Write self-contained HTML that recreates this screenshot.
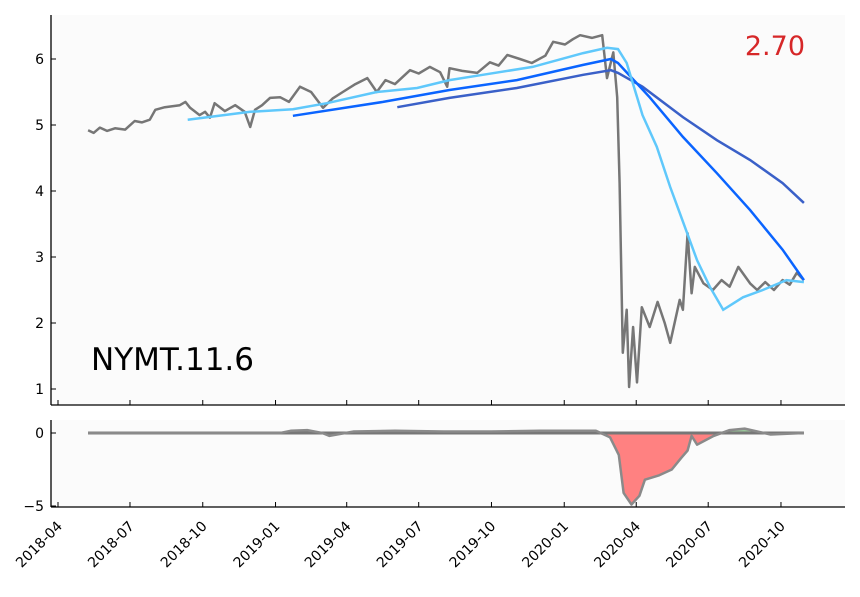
<!DOCTYPE html>
<html><head><meta charset="utf-8"><style>
html,body{margin:0;padding:0;background:#fff;}
svg{display:block;font-family:"DejaVu Sans","Liberation Sans",sans-serif;}
</style></head><body>
<svg id="chart" width="860" height="597" viewBox="0 0 860 597">
  <rect x="51" y="15" width="794" height="390" fill="#fbfbfb"/>
  <rect x="51" y="420" width="794" height="87" fill="#fbfbfb"/>
  <g id="lower"></g>
  <g id="main"></g>
  <g id="axes"></g>
  <text x="91" y="370" font-size="31" fill="#000">NYMT.11.6</text>
  <text x="805" y="55" font-size="27" fill="#d62728" text-anchor="end">2.70</text>
</svg>
<script>
const priceDates=["2018-05-09","2018-05-16","2018-05-24","2018-06-02","2018-06-12","2018-06-25","2018-07-07","2018-07-16","2018-07-26","2018-08-02","2018-08-14","2018-09-02","2018-09-09","2018-09-15","2018-09-27","2018-10-04","2018-10-10","2018-10-16","2018-10-29","2018-11-11","2018-11-23","2018-11-30","2018-12-06","2018-12-15","2018-12-25","2019-01-07","2019-01-18","2019-02-01","2019-02-15","2019-03-02","2019-03-14","2019-03-27","2019-04-12","2019-04-27","2019-05-09","2019-05-20","2019-06-01","2019-06-20","2019-07-01","2019-07-15","2019-07-28","2019-08-06","2019-08-09","2019-08-25","2019-09-13","2019-09-29","2019-10-10","2019-10-21","2019-11-06","2019-11-21","2019-12-08","2019-12-18","2020-01-02","2020-01-12","2020-01-21","2020-02-05","2020-02-18","2020-02-24","2020-03-03","2020-03-08","2020-03-11","2020-03-15","2020-03-20","2020-03-23","2020-03-28","2020-04-02","2020-04-08","2020-04-18","2020-04-28","2020-05-07","2020-05-14","2020-05-26","2020-05-30","2020-06-05","2020-06-10","2020-06-14","2020-06-25","2020-07-07","2020-07-18","2020-07-28","2020-08-08","2020-08-23","2020-09-01","2020-09-11","2020-09-22","2020-10-03","2020-10-12","2020-10-21","2020-10-30"];
const priceValues=[4.92,4.88,4.96,4.91,4.95,4.93,5.06,5.04,5.08,5.23,5.27,5.30,5.35,5.26,5.15,5.20,5.11,5.33,5.21,5.30,5.20,4.97,5.23,5.30,5.41,5.42,5.35,5.58,5.50,5.26,5.40,5.50,5.62,5.71,5.50,5.68,5.62,5.83,5.78,5.88,5.80,5.58,5.86,5.82,5.79,5.95,5.90,6.06,6.00,5.94,6.05,6.26,6.22,6.30,6.36,6.32,6.36,5.71,6.10,5.42,4.12,1.55,2.20,1.03,1.94,1.10,2.24,1.94,2.32,2.00,1.70,2.35,2.20,3.36,2.45,2.85,2.60,2.50,2.65,2.55,2.85,2.60,2.50,2.62,2.50,2.65,2.58,2.76,2.65];
const maShortDates=["2018-09-12","2018-11-30","2019-01-23","2019-03-07","2019-05-09","2019-06-29","2019-08-09","2019-09-20","2019-11-22","2020-01-25","2020-02-24","2020-03-09","2020-03-20","2020-04-09","2020-04-27","2020-05-14","2020-05-26","2020-06-17","2020-07-03","2020-07-20","2020-08-14","2020-09-08","2020-10-08","2020-10-30"];
const maShortValues=[5.08,5.20,5.24,5.33,5.50,5.56,5.68,5.76,5.88,6.09,6.17,6.15,5.94,5.15,4.67,4.06,3.67,2.95,2.55,2.20,2.39,2.50,2.65,2.62];
const maMidDates=["2019-01-23","2019-05-17","2019-08-09","2019-11-02","2020-01-25","2020-02-29","2020-03-09","2020-04-18","2020-05-30","2020-07-12","2020-08-23","2020-10-03","2020-10-30"];
const maMidValues=[5.14,5.35,5.53,5.68,5.91,6.00,5.94,5.42,4.82,4.27,3.71,3.11,2.65];
const maLongDates=["2019-06-04","2019-08-09","2019-11-02","2020-01-25","2020-02-29","2020-03-09","2020-04-09","2020-05-30","2020-07-12","2020-08-23","2020-10-03","2020-10-30"];
const maLongValues=[5.27,5.41,5.56,5.76,5.83,5.79,5.58,5.12,4.77,4.47,4.12,3.82];
const diffDates=["2018-05-09","2019-01-07","2019-01-20","2019-02-10","2019-03-01","2019-03-10","2019-04-10","2019-06-01","2019-08-01","2019-10-01","2019-12-01","2020-02-10","2020-02-28","2020-03-10","2020-03-16","2020-03-26","2020-04-05","2020-04-12","2020-04-30","2020-05-16","2020-05-28","2020-06-05","2020-06-10","2020-06-17","2020-07-08","2020-07-28","2020-08-16","2020-09-18","2020-10-30"];
const diffValues=[0,0,0.15,0.2,0.0,-0.2,0.1,0.15,0.1,0.1,0.15,0.15,-0.3,-1.5,-4.1,-4.9,-4.3,-3.2,-2.9,-2.5,-1.7,-1.2,-0.2,-0.8,-0.2,0.2,0.3,-0.1,0];
const mainTicks=[1,2,3,4,5,6];
const lowerTicks=[0,-5];
const lowerTickLabels=["0","\u22125"];
const xTicks=["2018-04-01","2018-07-01","2018-10-01","2019-01-01","2019-04-01","2019-07-01","2019-10-01","2020-01-01","2020-04-01","2020-07-01","2020-10-01"];
const xTickLabels=["2018-04","2018-07","2018-10","2019-01","2019-04","2019-07","2019-10","2020-01","2020-04","2020-07","2020-10"];

const NS="http://www.w3.org/2000/svg";
const T0=Date.UTC(2018,3,1);
function xs(d){const p=d.split('-').map(Number);return 58+((Date.UTC(p[0],p[1]-1,p[2])-T0)/86400000)*0.791;}
function ys(v){return 59+(6-v)*66;}
function yl(v){return 433-v*14.6;}
function mk(tag,attrs,parent){const e=document.createElementNS(NS,tag);for(const k in attrs)e.setAttribute(k,attrs[k]);parent.appendChild(e);return e;}
function pts(ds,vs,f){return ds.map((d,i)=>xs(d).toFixed(1)+','+f(vs[i]).toFixed(1)).join(' ');}

const main=document.getElementById('main');
const lower=document.getElementById('lower');
const axes=document.getElementById('axes');

let neg='M'+xs(diffDates[0])+','+yl(0), pos=neg;
diffDates.forEach((d,i)=>{neg+=' L'+xs(d).toFixed(1)+','+yl(Math.min(0,diffValues[i])).toFixed(1);pos+=' L'+xs(d).toFixed(1)+','+yl(Math.max(0,diffValues[i])).toFixed(1);});
neg+=' L'+xs(diffDates[diffDates.length-1])+','+yl(0)+' Z';pos+=' L'+xs(diffDates[diffDates.length-1])+','+yl(0)+' Z';
let e=mk('path',{d:neg,fill:'#ff6b6b','fill-opacity':'0.85'},lower);


e=mk('path',{d:pos,fill:'#5aa55a','fill-opacity':'0.6'},lower);


e=mk('line',{x1:xs(diffDates[0]),x2:xs(diffDates[diffDates.length-1]),y1:yl(0),y2:yl(0),stroke:'#777','stroke-width':3},lower);


e=mk('polyline',{points:pts(diffDates,diffValues,yl),fill:'none',stroke:'#8a8a8a','stroke-width':2.5,'stroke-linejoin':'round'},lower);



e=mk('polyline',{points:pts(priceDates,priceValues,ys),fill:'none',stroke:'#767676','stroke-width':2.5,'stroke-linejoin':'round'},main);


e=mk('polyline',{points:pts(maLongDates,maLongValues,ys),fill:'none',stroke:'#3a60c8','stroke-width':2.5},main);


e=mk('polyline',{points:pts(maMidDates,maMidValues,ys),fill:'none',stroke:'#0a64ff','stroke-width':2.5},main);


e=mk('polyline',{points:pts(maShortDates,maShortValues,ys),fill:'none',stroke:'#5fc8fb','stroke-width':2.5},main);



[[51,15,51,405],[51,405,845,405],[51,420,51,507],[51,507,845,507]].forEach(s=>{
  const l=mk('line',{x1:s[0],y1:s[1],x2:s[2],y2:s[3],stroke:'#000','stroke-width':1.3},axes);
  
  
});
mainTicks.forEach(v=>{
  const y=ys(v);
  const t=mk('line',{x1:51,x2:56,y1:y,y2:y,stroke:'#000'},axes);
  
  
  const tx=mk('text',{x:44,y:y+5,'font-size':14,'text-anchor':'end'},axes);tx.textContent=String(v);
  
  
});
lowerTicks.forEach((v,i)=>{
  const y=yl(v);
  const t=mk('line',{x1:51,x2:56,y1:y,y2:y,stroke:'#000'},axes);
  
  
  const tx=mk('text',{x:44,y:y+5,'font-size':14,'text-anchor':'end'},axes);tx.textContent=lowerTickLabels[i];
  
  
});
xTicks.forEach((d,i)=>{
  const x=xs(d);
  let t=mk('line',{x1:x,x2:x,y1:400,y2:405,stroke:'#000'},axes);
  
  
  t=mk('line',{x1:x,x2:x,y1:502,y2:507,stroke:'#000'},axes);
  
  
  const ax=x+5, ay=527;
  const tx=mk('text',{x:ax,y:ay,'font-size':14,'text-anchor':'end',transform:'rotate(-45 '+ax+' '+ay+')'},axes);
  tx.textContent=xTickLabels[i];
  
  
});
</script>
</body></html>
